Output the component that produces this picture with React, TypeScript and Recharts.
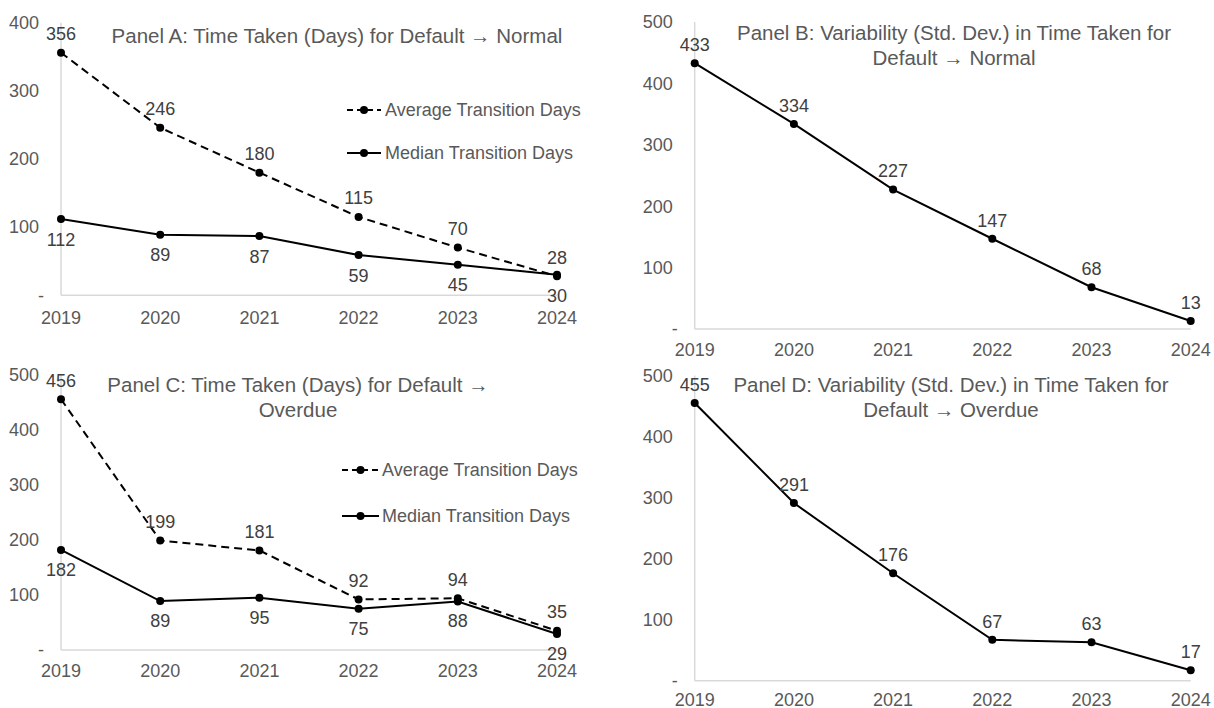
import React from 'react';
import { LineChart, Line, XAxis, YAxis, LabelList, Legend } from 'recharts';

const years = ['2019', '2020', '2021', '2022', '2023', '2024'];
const normalAvg = [356, 246, 180, 115, 70, 28];
const normalMedian = [112, 89, 87, 59, 45, 30];
const normalStd = [433, 334, 227, 147, 68, 13];
const overdueAvg = [456, 199, 181, 92, 94, 35];
const overdueMedian = [182, 89, 95, 75, 88, 29];
const overdueStd = [455, 291, 176, 67, 63, 17];
const ticks400 = [0, 100, 200, 300, 400];
const ticks500 = [0, 100, 200, 300, 400, 500];
const avgName = 'Average Transition Days';
const medName = 'Median Transition Days';
const titleA = ['Panel A: Time Taken (Days) for Default → Normal'];
const titleB = ['Panel B: Variability (Std. Dev.) in Time Taken for', 'Default → Normal'];
const titleC = ['Panel C: Time Taken (Days) for Default →', 'Overdue'];
const titleD = ['Panel D: Variability (Std. Dev.) in Time Taken for', 'Default → Overdue'];

const FONT = "'Liberation Sans', Arial, sans-serif";
const TICK_COLOR = '#595959';
const LABEL_COLOR = '#404040';
const FS = 18;
const TITLE_FS = 20.5;

const dataNormal = years.map((y, i) => ({ year: y, avg: normalAvg[i], med: normalMedian[i], std: normalStd[i] }));
const dataOverdue = years.map((y, i) => ({ year: y, avg: overdueAvg[i], med: overdueMedian[i], std: overdueStd[i] }));

const makeYTick = () => (props: any) => {
  const { x, y, payload } = props;
  const zero = payload.value === 0;
  return (
    <text x={zero ? x - 17 : x - 22} y={y} dy="0.35em" textAnchor="end" fill={TICK_COLOR} fontSize={FS} fontFamily={FONT}>
      {zero ? '-' : payload.value}
    </text>
  );
};

const makeXTick = (off: number) => (props: any) => {
  const { x, y, payload } = props;
  return (
    <text x={x} y={y + off} dy="0.35em" textAnchor="middle" fill={TICK_COLOR} fontSize={FS} fontFamily={FONT}>
      {payload.value}
    </text>
  );
};

const makeLabel = (off: number) => (props: any) => {
  const vb = props.viewBox || {};
  const x = props.x ?? vb.x;
  const y = props.y ?? vb.y;
  if (x == null || y == null) return null;
  return (
    <text x={x} y={y + off} dy="0.35em" textAnchor="middle" fill={LABEL_COLOR} fontSize={FS} fontFamily={FONT}>
      {props.value}
    </text>
  );
};

const makeLegend = (gap: number, symW: number, textGap: number) => (props: any) => {
  const payload = (props.payload || []).slice().sort((a: any, b: any) => (a.value === avgName ? -1 : b.value === avgName ? 1 : 0));
  return (
    <div>
      {payload.map((p: any) => {
        const dashed = p.value === avgName;
        return (
          <div key={p.value} style={{ height: gap, display: 'flex', alignItems: 'center' }}>
            <svg width={symW} height={12} style={{ display: 'block' }}>
              <line x1={0} y1={6} x2={symW} y2={6} stroke="#000" strokeWidth={2} strokeDasharray={dashed ? '6 4' : undefined} />
              <circle cx={symW / 2} cy={6} r={4} fill="#000" />
            </svg>
            <span style={{ marginLeft: textGap, fontSize: FS, fontFamily: FONT, color: TICK_COLOR, whiteSpace: 'nowrap', lineHeight: 1 }}>{p.value}</span>
          </div>
        );
      })}
    </div>
  );
};

type PanelProps = {
  left: number; top: number; w: number; h: number;
  px0: number; px1: number; py0: number; py1: number;
  data: any[]; ymax: number; ticks: number[];
  xOff: number;
  lines: { key: string; name: string; dashed: boolean; labelOff: number }[];
  legend?: { x: number; y1: number; y2: number; symW: number; textGap: number };
  title: string[]; titleX: number; titleY: number;
};

function Panel(p: PanelProps) {
  const margin = { top: p.py0 - p.top, left: 0, right: p.left + p.w - p.px1, bottom: 0 };
  const yW = p.px0 - p.left;
  const xH = p.top + p.h - p.py1;
  const axisLine = { stroke: '#d9d9d9', strokeWidth: 1.5 };
  return (
    <div style={{ position: 'absolute', left: p.left, top: p.top, width: p.w, height: p.h }}>
      <LineChart width={p.w} height={p.h} data={p.data} margin={margin}>
        <XAxis dataKey="year" axisLine={axisLine} tickLine={false} tickSize={0} tickMargin={0} height={xH}
          padding={{ left: 0, right: 0 }} interval={0} tick={makeXTick(p.xOff)} />
        <YAxis type="number" domain={[0, p.ymax]} ticks={p.ticks} interval={0} axisLine={axisLine} tickLine={false}
          tickSize={0} tickMargin={0} width={yW} tick={makeYTick()} />
        {p.lines.map((l) => (
          <Line key={l.key} dataKey={l.key} name={l.name} type="linear" stroke="#000" strokeWidth={2}
            strokeDasharray={l.dashed ? '8 5' : undefined}
            dot={{ r: 4, fill: '#000', stroke: '#000', strokeWidth: 0, strokeDasharray: '' }} activeDot={false}
            isAnimationActive={false}>
            <LabelList dataKey={l.key} content={makeLabel(l.labelOff)} />
          </Line>
        ))}
        {p.legend ? (
          <Legend layout="horizontal" verticalAlign="middle" align="center"
            wrapperStyle={{ left: p.legend.x - p.left, top: (p.legend.y1 - p.top) - (p.legend.y2 - p.legend.y1) / 2, width: 'auto', height: 'auto' }}
            content={makeLegend(p.legend.y2 - p.legend.y1, p.legend.symW, p.legend.textGap)} />
        ) : null}
      </LineChart>
      {p.title.map((t, i) => (
        <div key={i} style={{
          position: 'absolute', left: p.titleX - p.left - 400, width: 800, textAlign: 'center',
          top: p.titleY - p.top + i * 25 - TITLE_FS * 0.6, height: TITLE_FS * 1.2, lineHeight: `${TITLE_FS * 1.2}px`,
          fontSize: TITLE_FS, fontFamily: FONT, color: TICK_COLOR, whiteSpace: 'nowrap', pointerEvents: 'none',
        }}>{t}</div>
      ))}
    </div>
  );
}

export default function App() {
  return (
    <div style={{ position: 'absolute', left: 0, top: 0, width: 1214, height: 708, background: '#fff', overflow: 'hidden' }}>
      <Panel left={0} top={0} w={607} h={345} px0={61} px1={557} py0={22.7} py1={295.3}
        data={dataNormal} ymax={400} ticks={ticks400} xOff={22.5}
        lines={[{ key: 'avg', name: avgName, dashed: true, labelOff: -19 }, { key: 'med', name: medName, dashed: false, labelOff: 20.5 }]}
        legend={{ x: 347, y1: 110, y2: 152.7, symW: 34, textGap: 4 }}
        title={titleA} titleX={337} titleY={36} />
      <Panel left={607} top={0} w={607} h={360} px0={694.7} px1={1190.7} py0={22} py1={329}
        data={dataNormal} ymax={500} ticks={ticks500} xOff={20.5}
        lines={[{ key: 'std', name: 'Std', dashed: false, labelOff: -18.5 }]}
        title={titleB} titleX={954} titleY={33} />
      <Panel left={0} top={350} w={607} h={358} px0={61} px1={557} py0={375} py1={650}
        data={dataOverdue} ymax={500} ticks={ticks500} xOff={20.7}
        lines={[{ key: 'avg', name: avgName, dashed: true, labelOff: -19 }, { key: 'med', name: medName, dashed: false, labelOff: 19.5 }]}
        legend={{ x: 342, y1: 470, y2: 515.7, symW: 37, textGap: 3 }}
        title={titleC} titleX={298} titleY={385} />
      <Panel left={607} top={350} w={607} h={358} px0={694.7} px1={1190.7} py0={375.5} py1={680.7}
        data={dataOverdue} ymax={500} ticks={ticks500} xOff={18.5}
        lines={[{ key: 'std', name: 'Std', dashed: false, labelOff: -18.5 }]}
        title={titleD} titleX={951} titleY={385} />
    </div>
  );
}
